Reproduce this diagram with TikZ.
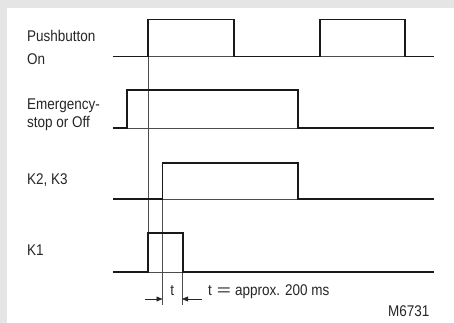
\documentclass[tikz,border=0pt]{standalone}
\usepackage{fontspec}
\setmainfont[FakeStretch=0.87]{Liberation Sans}
\usetikzlibrary{arrows.meta}
\begin{document}
\begin{tikzpicture}[x=1pt,y=-1pt,
  sig/.style={line width=1.4pt,line join=miter,black!90},
  thin/.style={line width=0.5pt,black!70},
  lbl/.style={anchor=base west,inner sep=0pt,font=\fontsize{15.5}{18}\selectfont,black!85},
  dim/.style={line width=0.5pt,black!85,-{Triangle[length=6pt,width=5pt]}}]
\fill[black!10] (0,0) rectangle (454,323);
\fill[white] (7,8) rectangle (454,323);
\useasboundingbox (0,0) rectangle (454,323);
% thin baselines under high parts
\draw[thin] (148,56.7) -- (234,56.7) (320,56.7) -- (405,56.7);
\draw[thin] (127,128) -- (298,128);
\draw[thin] (162,199) -- (298,199);
\draw[thin] (148,272) -- (183,272);
% vertical reference lines
\draw[thin] (148,19.5) -- (148,272);
\draw[thin] (162.5,163) -- (162.5,305);
\draw[thin] (182,233) -- (182,305);
% signals
\draw[sig] (113,56.7) -- (148,56.7) -- (148,19.5) -- (234,19.5) -- (234,56.7) -- (320,56.7) -- (320,19.5) -- (405,19.5) -- (405,56.7) -- (434,56.7);
\draw[sig] (113,128) -- (127,128) -- (127,90) -- (298,90) -- (298,128) -- (434,128);
\draw[sig] (113,199) -- (162.5,199) -- (162.5,163) -- (298,163) -- (298,199) -- (434,199);
\draw[sig] (113,272) -- (148,272) -- (148,233) -- (183,233) -- (183,272) -- (434,272);
% dimension arrows
\coordinate (a1) at (145,299); \coordinate (a2) at (162.5,299);
\coordinate (b1) at (202,299); \coordinate (b2) at (182,299);
\draw[dim] (a1) -- (a2);
\draw[dim] (b1) -- (b2);
% labels
\node[lbl] (pb1) at (27,42) {Pushbutton};
\node[lbl] (pb2) at (27,64.5) {On};
\node[lbl] (es1) at (27,110) {Emergency-};
\node[lbl] (es2) at (27,128) {stop or Off};
\node[lbl] (k23) at (27,184.3) {K2, K3};
\node[lbl] (k1) at (27,255.7) {K1};
\node[lbl,anchor=base] (t) at (172.3,295) {t};
\node[lbl] (tt) at (208,295.5) {t\hspace{5pt}\scalebox{1.8}[1]{=}\hspace{4pt}approx. 200 ms};
\node[lbl] (m) at (388,316) {M6731};
\end{tikzpicture}
\end{document}
